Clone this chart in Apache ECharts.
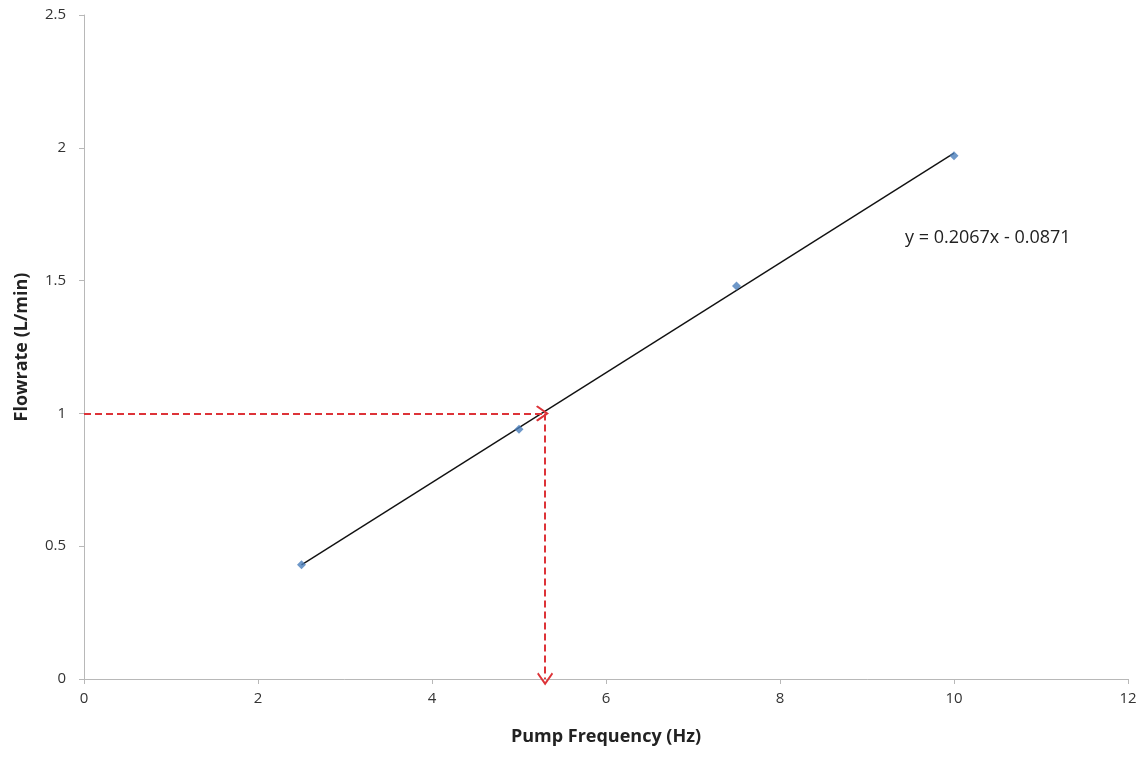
<!DOCTYPE html>
<html>
<head>
<meta charset="utf-8">
<script src="https://cdn.jsdelivr.net/npm/echarts@6/dist/echarts.min.js"></script>
<style>html,body{margin:0;padding:0;background:#fff;}#c{width:1148px;height:758px;}</style>
</head>
<body>
<div id="c"></div>
<script>
const xValues = [2.5, 5, 7.5, 10];
const yValues = [0.43, 0.94, 1.48, 1.97];
const trendStart = [2.5, 0.43];
const trendEnd = [10, 1.98];
const equationText = 'y = 0.2067x - 0.0871';
const targetFlow = 1;
const readFreqH = 5.27;
const readFreqV = 5.3;
const xTitle = 'Pump Frequency (Hz)';
const yTitle = 'Flowrate (L/min)';

const chart = echarts.init(document.getElementById('c'));
const chevron = 'path://M0,10 L10,0 L20,10 L18.4,11.4 L10,3 L1.6,11.4 Z';
const font = '"Open Sans", "Liberation Sans", sans-serif';
chart.setOption({
  animation: false,
  backgroundColor: '#fff',
  grid: { left: 84, right: 20, top: 15, bottom: 79 },
  xAxis: {
    type: 'value', min: 0, max: 12, interval: 2,
    name: xTitle, nameLocation: 'middle', nameGap: 49,
    nameTextStyle: { fontFamily: font, fontWeight: 'bold', fontSize: 18, color: '#222' },
    axisLine: { show: true, onZero: false, lineStyle: { color: '#b8b8b8', width: 1 } },
    axisTick: { show: true, length: 5, lineStyle: { color: '#b8b8b8' } },
    axisLabel: { fontFamily: font, fontSize: 15, color: '#333', margin: 12 },
    splitLine: { show: false }
  },
  yAxis: {
    type: 'value', min: 0, max: 2.5, interval: 0.5,
    name: yTitle, nameLocation: 'middle', nameGap: 53,
    nameTextStyle: { fontFamily: font, fontWeight: 'bold', fontSize: 18, color: '#222' },
    axisLine: { show: true, lineStyle: { color: '#b8b8b8', width: 1 } },
    axisTick: { show: true, length: 5, lineStyle: { color: '#b8b8b8' } },
    axisLabel: { fontFamily: font, fontSize: 15, color: '#333', margin: 18 },
    splitLine: { show: false }
  },
  series: [
    {
      type: 'line',
      data: [trendStart, trendEnd],
      symbol: 'none',
      lineStyle: { color: '#111', width: 1.4 },
      z: 2,
      markLine: {
        silent: true,
        symbol: ['none', chevron],
        symbolSize: [16, 13],
        label: { show: false },
        lineStyle: { color: '#dd3338', type: [7, 4], width: 2 },
        data: [
          [{ coord: [0, targetFlow] }, { coord: [readFreqH, targetFlow] }],
          [{ coord: [readFreqV, targetFlow] }, { coord: [readFreqV, 0] }]
        ]
      }
    },
    {
      type: 'scatter',
      data: xValues.map((x, i) => [x, yValues[i]]),
      symbol: 'diamond',
      symbolSize: 9,
      itemStyle: { color: '#4a7ebb' },
      z: 3
    }
  ],
  graphic: [{
    type: 'text', left: 905, top: 229,
    style: { text: equationText, fontFamily: font, fontSize: 18, fill: '#222' }
  }]
});
</script>
</body>
</html>
